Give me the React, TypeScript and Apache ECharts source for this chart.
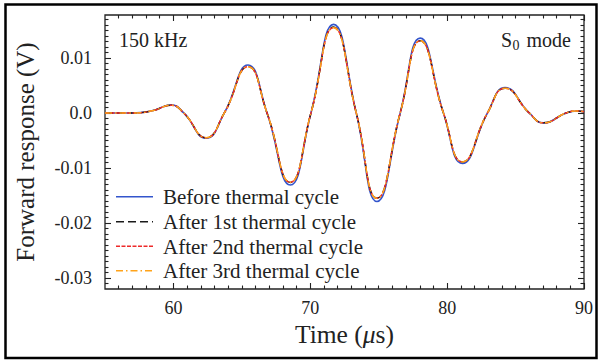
import React, { useEffect, useRef } from "react";
import * as echarts from "echarts";

const timeUs = [55, 56, 57, 57.6, 58.6, 59.83, 60.75, 62.39, 63.72, 65.45, 66.84, 68.54, 70.05, 71.7, 73.36, 74.87, 76.57, 78.03, 79.73, 81.12, 82.95, 84.23, 86.0, 87.03, 88.7, 89.47, 90];
const beforeCycle = [0, 0, 0, 0.00005, 0.0005, 0.00145, 0, -0.0046, 0, 0.0087, 0, -0.0131, 0, 0.0161, 0, -0.0161, 0, 0.0136, 0, -0.0092, 0, 0.0046, 0, -0.0018, 0, 0.00036, 0.0002];
const after1st = [0, 0, 0, 0.00005, 0.0005, 0.0014, 0, -0.0045, 0, 0.0084, 0, -0.01265, 0, 0.0156, 0, -0.0155, 0, 0.0131, 0, -0.0089, 0, 0.0045, 0, -0.0018, 0, 0.00036, 0.0002];
const after2nd = [0, 0, 0, 0.00005, 0.0005, 0.0014, 0, -0.0045, 0, 0.0084, 0, -0.0126, 0, 0.0155, 0, -0.0155, 0, 0.0131, 0, -0.0089, 0, 0.0045, 0, -0.0018, 0, 0.00036, 0.0002];
const after3rd = [0, 0, 0, 0.00005, 0.0005, 0.0014, 0, -0.0045, 0, 0.0084, 0, -0.0126, 0, 0.0155, 0, -0.0155, 0, 0.0131, 0, -0.0089, 0, 0.0045, 0, -0.0018, 0, 0.00036, 0.0002];

const seriesNames = ["Before thermal cycle", "After 1st thermal cycle", "After 2nd thermal cycle", "After 3rd thermal cycle"];
const xMajor = [60, 70, 80, 90];
const xMinor = [56, 57, 58, 59, 61, 62, 63, 64, 65, 66, 67, 68, 69, 71, 72, 73, 74, 75, 76, 77, 78, 79, 81, 82, 83, 84, 85, 86, 87, 88, 89];
const yMajor = [-0.03, -0.02, -0.01, 0, 0.01];
const yMinor = [
  -0.031, -0.029, -0.028, -0.027, -0.026, -0.025, -0.024, -0.023, -0.022, -0.021,
  -0.019, -0.018, -0.017, -0.016, -0.015, -0.014, -0.013, -0.012, -0.011,
  -0.009, -0.008, -0.007, -0.006, -0.005, -0.004, -0.003, -0.002, -0.001,
  0.001, 0.002, 0.003, 0.004, 0.005, 0.006, 0.007, 0.008, 0.009,
  0.011, 0.012, 0.013, 0.014, 0.015, 0.016, 0.017,
];

const FONT = "Liberation Serif";
const TXT = "#222";
const X_MIN = 55, X_MAX = 90, Y_MIN = -0.032, Y_MAX = 0.0178;

const colors = ["#3355cc", "#1a1a1a", "#ee2a2a", "#ffa31a"];
const dashes: any[] = ["solid", [8, 4], [4, 1.5], [7, 3, 1.5, 3]];
const widths = [1.6, 1.5, 1.5, 1.5];

function pairs(ys: number[]) {
  return timeUs.map((t, i) => [t, ys[i]]);
}

function xAxisDef(position: string, values: number[], len: number, labels: boolean) {
  return {
    type: "value", min: X_MIN, max: X_MAX, position,
    axisLine: { show: false, onZero: false },
    splitLine: { show: false },
    axisTick: { show: true, inside: true, length: len, customValues: values, lineStyle: { color: TXT, width: 1.1 } },
    axisLabel: labels
      ? { show: true, customValues: values, margin: 10, color: TXT, fontFamily: FONT, fontSize: 18 }
      : { show: false },
  };
}
function yAxisDef(position: string, values: number[], len: number, labels: boolean) {
  return {
    type: "value", min: Y_MIN, max: Y_MAX, position,
    axisLine: { show: false, onZero: false },
    splitLine: { show: false },
    axisTick: { show: true, inside: true, length: len, customValues: values, lineStyle: { color: TXT, width: 1.1 } },
    axisLabel: labels
      ? {
          show: true, customValues: values, margin: 13, color: TXT, fontFamily: FONT, fontSize: 18,
          formatter: (v: number) => (Math.abs(v) < 1e-9 ? "0.0" : v.toFixed(2)),
        }
      : { show: false },
  };
}

export default function App() {
  const ref = useRef<HTMLDivElement>(null);
  useEffect(() => {
    if (!ref.current) return;
    const chart = echarts.init(ref.current, undefined, { renderer: "svg" });
    const common = { type: "line", showSymbol: false, symbol: "none", smooth: 0.5, xAxisIndex: 0, yAxisIndex: 0 };
    const xa: any = [
      xAxisDef("bottom", xMajor, 6, true),
      xAxisDef("bottom", xMinor, 3.5, false),
      xAxisDef("top", xMajor, 6, false),
      xAxisDef("top", xMinor, 3.5, false),
    ];
    xa[0].name = "Time ({i|μ}s)";
    xa[0].nameLocation = "middle";
    xa[0].nameGap = 29;
    xa[0].nameTextStyle = { color: TXT, fontFamily: FONT, fontSize: 25.5, rich: { i: { fontStyle: "italic", color: TXT, fontFamily: FONT, fontSize: 25.5 } } };
    const ya: any = [
      yAxisDef("left", yMajor, 6, true),
      yAxisDef("left", yMinor, 3.5, false),
      yAxisDef("right", yMajor, 6, false),
      yAxisDef("right", yMinor, 3.5, false),
    ];
    ya[0].name = "Forward response (V)";
    ya[0].nameLocation = "middle";
    ya[0].nameGap = 67;
    ya[0].nameTextStyle = { color: TXT, fontFamily: FONT, fontSize: 25 };

    const legendRows = [196.7, 221.7, 246.2, 270.7];
    const legendGraphics: any[] = [];
    seriesNames.forEach((name, i) => {
      legendGraphics.push({
        type: "line",
        shape: { x1: 116, y1: legendRows[i], x2: 153, y2: legendRows[i] },
        style: { stroke: colors[i], lineWidth: widths[i], lineDash: dashes[i] === "solid" ? null : dashes[i] },
        silent: true,
      });
      legendGraphics.push({
        type: "text", x: 163, y: legendRows[i] + 0.5,
        style: { text: name, fontFamily: FONT, fontSize: 21, fill: TXT, verticalAlign: "middle" },
      });
    });

    chart.setOption({
      animation: false,
      backgroundColor: "#fff",
      grid: { left: 105, right: 16, top: 15, bottom: 72, show: true, borderColor: TXT, borderWidth: 1.3, backgroundColor: "transparent" },
      xAxis: xa,
      yAxis: ya,
      graphic: [
        { type: "rect", shape: { x: 5.5, y: 4.5, width: 591, height: 353.5 }, style: { fill: "none", stroke: "#000", lineWidth: 2.5 }, silent: true },
        { type: "text", x: 119, y: 40, style: { text: "150 kHz", fontFamily: FONT, fontSize: 20, fill: TXT, verticalAlign: "middle" } },
        { type: "text", x: 501, y: 40, style: { text: "S", fontFamily: FONT, fontSize: 20, fill: TXT, verticalAlign: "middle" } },
        { type: "text", x: 512.5, y: 45.5, style: { text: "0", fontFamily: FONT, fontSize: 14, fill: TXT, verticalAlign: "middle" } },
        { type: "text", x: 571, y: 40, style: { text: "mode", fontFamily: FONT, fontSize: 20, fill: TXT, verticalAlign: "middle", align: "right" } },
        ...legendGraphics,
      ],
      series: [beforeCycle, after1st, after2nd, after3rd].map((ys, i) => ({
        ...common,
        name: seriesNames[i],
        data: pairs(ys),
        lineStyle: { color: colors[i], width: widths[i], type: dashes[i] },
        itemStyle: { color: colors[i] },
      })),
    });
    return () => chart.dispose();
  }, []);
  return <div ref={ref} style={{ position: "fixed", left: 0, top: 0, width: 600, height: 361 }} />;
}
